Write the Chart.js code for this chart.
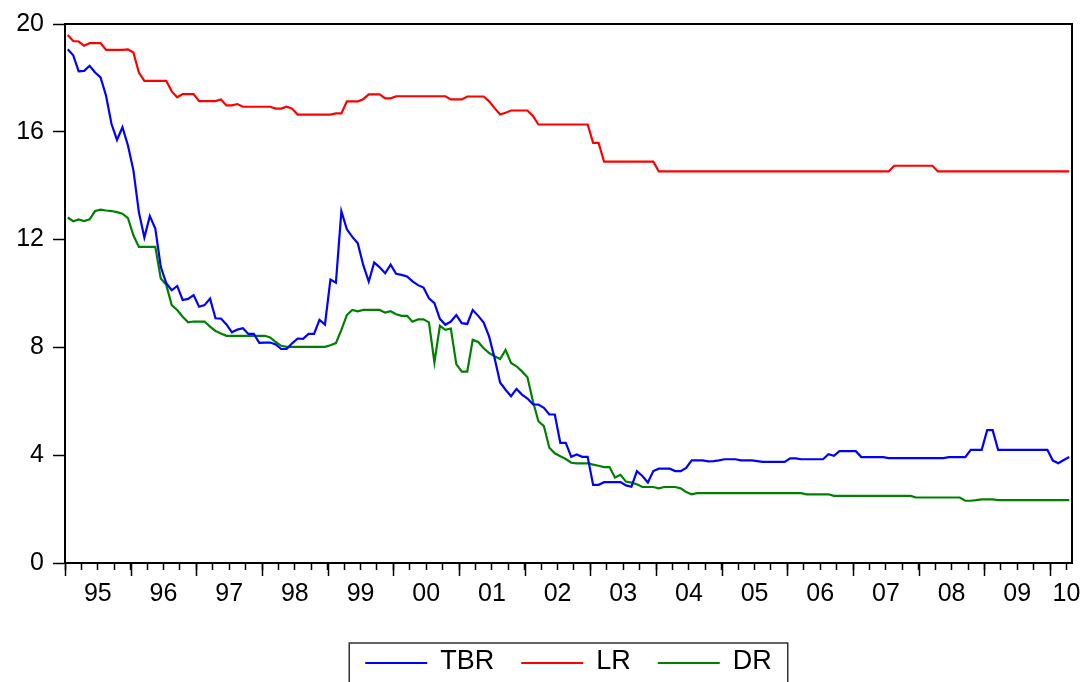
<!DOCTYPE html>
<html>
<head>
<meta charset="utf-8">
<script src="https://cdn.jsdelivr.net/npm/chart.js@4/dist/chart.umd.min.js"></script>
<style>
  html, body { margin: 0; padding: 0; background: #fff; }
  #wrap { width: 1090px; height: 682px; position: relative; }
</style>
</head>
<body>
<div id="wrap"><canvas id="rates"></canvas></div>
<script>
// Monthly rates, 1995M01 - 2010M04
const startYear = 1995;
const yearLabels = ['95', '96', '97', '98', '99', '00', '01', '02', '03', '04', '05', '06', '07', '08', '09', '10'];
const seriesNames = ['TBR', 'LR', 'DR'];
const seriesColors = ['#0000ff', '#ff0000', '#008000'];

const tbr = [
  19.06, 18.84, 18.24, 18.26, 18.45, 18.2, 18.02, 17.34, 16.29, 15.7, 16.17, 15.49,
  14.57, 13.02, 12.08, 12.87, 12.41, 10.99, 10.38, 10.12, 10.28, 9.76, 9.8, 9.94,
  9.51, 9.57, 9.81, 9.08, 9.07, 8.85, 8.56, 8.66, 8.71, 8.5, 8.5, 8.17,
  8.18, 8.18, 8.11, 7.94, 7.94, 8.15, 8.33, 8.32, 8.5, 8.5, 9.02, 8.85,
  10.52, 10.4, 13.05, 12.38, 12.1, 11.86, 11.05, 10.44, 11.15, 10.97, 10.75, 11.07,
  10.73, 10.69, 10.63, 10.45, 10.31, 10.22, 9.82, 9.64, 9.06, 8.84, 8.96, 9.2,
  8.9, 8.87, 9.39, 9.17, 8.92, 8.4, 7.6, 6.7, 6.43, 6.19, 6.46, 6.25,
  6.1, 5.89, 5.88, 5.76, 5.51, 5.51, 4.46, 4.46, 3.94, 4.03, 3.94, 3.94,
  2.9, 2.9, 3.0, 3.0, 3.0, 3.0, 2.88, 2.83, 3.41, 3.23, 2.99, 3.41,
  3.5, 3.5, 3.5, 3.41, 3.41, 3.53, 3.81, 3.81, 3.81, 3.77, 3.78, 3.81,
  3.85, 3.85, 3.85, 3.81, 3.81, 3.81, 3.78, 3.75, 3.75, 3.75, 3.75, 3.75,
  3.88, 3.88, 3.85, 3.85, 3.85, 3.85, 3.85, 4.04, 3.98, 4.15, 4.15, 4.15,
  4.15, 3.93, 3.93, 3.93, 3.93, 3.93, 3.89, 3.89, 3.89, 3.89, 3.89, 3.89,
  3.89, 3.89, 3.89, 3.89, 3.89, 3.93, 3.93, 3.93, 3.93, 4.2, 4.2, 4.2,
  4.93, 4.93, 4.2, 4.2, 4.2, 4.2, 4.2, 4.2, 4.2, 4.2, 4.2, 4.2,
  3.8, 3.7, 3.82, 3.93
];

const lr = [
  19.59, 19.37, 19.35, 19.19, 19.29, 19.29, 19.29, 19.04, 19.04, 19.04, 19.04, 19.06,
  18.94, 18.2, 17.89, 17.89, 17.89, 17.89, 17.89, 17.5, 17.28, 17.4, 17.4, 17.4,
  17.14, 17.14, 17.14, 17.14, 17.2, 16.98, 16.98, 17.03, 16.93, 16.93, 16.93, 16.93,
  16.93, 16.93, 16.86, 16.86, 16.93, 16.86, 16.64, 16.64, 16.64, 16.64, 16.64, 16.64,
  16.64, 16.68, 16.68, 17.13, 17.13, 17.13, 17.21, 17.39, 17.39, 17.39, 17.24, 17.24,
  17.32, 17.32, 17.32, 17.32, 17.32, 17.32, 17.32, 17.32, 17.32, 17.32, 17.2, 17.2,
  17.2, 17.31, 17.31, 17.31, 17.31, 17.13, 16.88, 16.64, 16.71, 16.79, 16.79, 16.79,
  16.79, 16.59, 16.27, 16.27, 16.27, 16.27, 16.27, 16.27, 16.27, 16.27, 16.27, 16.27,
  15.59, 15.59, 14.89, 14.89, 14.89, 14.89, 14.89, 14.89, 14.89, 14.89, 14.89, 14.89,
  14.53, 14.53, 14.53, 14.53, 14.53, 14.53, 14.53, 14.53, 14.53, 14.53, 14.53, 14.53,
  14.53, 14.53, 14.53, 14.53, 14.53, 14.53, 14.53, 14.53, 14.53, 14.53, 14.53, 14.53,
  14.53, 14.53, 14.53, 14.53, 14.53, 14.53, 14.53, 14.53, 14.53, 14.53, 14.53, 14.53,
  14.53, 14.53, 14.53, 14.53, 14.53, 14.53, 14.53, 14.74, 14.74, 14.74, 14.74, 14.74,
  14.74, 14.74, 14.74, 14.53, 14.53, 14.53, 14.53, 14.53, 14.53, 14.53, 14.53, 14.53,
  14.53, 14.53, 14.53, 14.53, 14.53, 14.53, 14.53, 14.53, 14.53, 14.53, 14.53, 14.53,
  14.53, 14.53, 14.53, 14.53
];

const dr = [
  12.82, 12.68, 12.75, 12.69, 12.75, 13.06, 13.11, 13.08, 13.06, 13.02, 12.96, 12.8,
  12.16, 11.73, 11.73, 11.73, 11.73, 10.56, 10.32, 9.57, 9.39, 9.14, 8.93, 8.96,
  8.96, 8.96, 8.77, 8.61, 8.52, 8.43, 8.43, 8.43, 8.43, 8.43, 8.43, 8.43,
  8.43, 8.37, 8.2, 8.06, 8.02, 8.02, 8.02, 8.02, 8.02, 8.02, 8.02, 8.02,
  8.08, 8.16, 8.65, 9.2, 9.39, 9.34, 9.39, 9.39, 9.39, 9.39, 9.29, 9.34,
  9.23, 9.17, 9.17, 8.95, 9.04, 9.04, 8.93, 7.44, 8.8, 8.65, 8.7, 7.38,
  7.1, 7.1, 8.28, 8.2, 7.97, 7.79, 7.67, 7.57, 7.91, 7.42, 7.3, 7.11,
  6.89, 6.0, 5.26, 5.08, 4.28, 4.07, 3.96, 3.86, 3.72, 3.7, 3.7, 3.7,
  3.65, 3.61, 3.56, 3.56, 3.17, 3.27, 3.02, 2.98, 2.92, 2.82, 2.82, 2.82,
  2.77, 2.82, 2.82, 2.82, 2.77, 2.63, 2.55, 2.59, 2.59, 2.59, 2.59, 2.59,
  2.59, 2.59, 2.59, 2.59, 2.59, 2.59, 2.59, 2.59, 2.59, 2.59, 2.59, 2.59,
  2.59, 2.59, 2.59, 2.55, 2.55, 2.55, 2.55, 2.55, 2.49, 2.49, 2.49, 2.49,
  2.49, 2.49, 2.49, 2.49, 2.49, 2.49, 2.49, 2.49, 2.49, 2.49, 2.49, 2.43,
  2.43, 2.43, 2.43, 2.43, 2.43, 2.43, 2.43, 2.43, 2.31, 2.31, 2.33, 2.36,
  2.36, 2.36, 2.33, 2.33, 2.33, 2.33, 2.33, 2.33, 2.33, 2.33, 2.33, 2.33,
  2.33, 2.33, 2.33, 2.33
];

const yTicks = [0, 4, 8, 12, 16, 20];
const nMonths = tbr.length;
const FONT = "'Liberation Sans', Arial, sans-serif";

// each observation sits in the middle of its month
const toPoints = arr => arr.map((v, i) => ({ x: i + 0.5, y: v }));

// frame around the plot, long ticks at year starts, boxed legend under the axis
const framePlugin = {
  id: 'frame',
  afterDraw(chart) {
    const { ctx, chartArea: a, scales: { x } } = chart;
    ctx.save();
    ctx.strokeStyle = '#000';
    ctx.lineWidth = 2;
    ctx.strokeRect(a.left, a.top, a.right - a.left, a.bottom - a.top);

    ctx.lineWidth = 1.5;
    ctx.beginPath();
    for (let m = 0; m <= nMonths; m += 12) {
      const px = Math.round(x.getPixelForValue(m)) + 0.5;
      ctx.moveTo(px, a.bottom);
      ctx.lineTo(px, a.bottom + 13);
    }
    ctx.stroke();

    // legend
    ctx.font = '27px ' + FONT;
    const lineLen = 62, gap = 13, itemGap = 27, pad = 16;
    const widths = seriesNames.map(n => ctx.measureText(n).width);
    let total = 0;
    widths.forEach((w, i) => { total += lineLen + gap + w + (i < widths.length - 1 ? itemGap : 0); });
    const cx = (a.left + a.right) / 2;
    let lx = cx - total / 2;
    const ly = a.bottom + 100;
    ctx.strokeStyle = '#333';
    ctx.lineWidth = 1.5;
    ctx.strokeRect(lx - pad, a.bottom + 80, total + pad * 2, 60);
    ctx.textBaseline = 'middle';
    ctx.fillStyle = '#000';
    seriesNames.forEach((name, i) => {
      ctx.strokeStyle = seriesColors[i];
      ctx.lineWidth = 2;
      ctx.beginPath();
      ctx.moveTo(lx, ly);
      ctx.lineTo(lx + lineLen, ly);
      ctx.stroke();
      lx += lineLen + gap;
      ctx.fillText(name, lx, ly - 1);
      lx += widths[i] + itemGap;
    });
    ctx.restore();
  }
};

const ctx = document.getElementById('rates').getContext('2d');
new Chart(ctx, {
  type: 'line',
  data: {
    datasets: [
      { label: seriesNames[0], data: toPoints(tbr), borderColor: seriesColors[0] },
      { label: seriesNames[1], data: toPoints(lr), borderColor: seriesColors[1] },
      { label: seriesNames[2], data: toPoints(dr), borderColor: seriesColors[2] }
    ]
  },
  options: {
    responsive: true,
    maintainAspectRatio: false,
    animation: false,
    devicePixelRatio: 1,
    layout: { padding: { top: 22, right: 18, left: 0, bottom: 0 } },
    elements: {
      line: { borderWidth: 2.2, tension: 0, fill: false },
      point: { radius: 0, hoverRadius: 0 }
    },
    plugins: { legend: { display: false }, tooltip: { enabled: false } },
    scales: {
      x: {
        type: 'linear',
        min: 0,
        max: nMonths,
        afterBuildTicks: scale => {
          // quarterly tick marks
          const t = [];
          for (let m = 0; m < nMonths; m += 3) t.push({ value: m });
          scale.ticks = t;
        },
        afterFit: scale => { scale.height = 119; },
        grid: { drawOnChartArea: false, tickLength: 7, tickColor: '#000', tickWidth: 1.5 },
        border: { color: '#000', width: 2 },
        ticks: {
          autoSkip: false,
          maxRotation: 0,
          padding: 9,
          color: '#000',
          font: { family: FONT, size: 25 },
          callback: value => {
            if (value % 12 === 6) return yearLabels[(value - 6) / 12];
            if (value === nMonths - 1) return yearLabels[yearLabels.length - 1];
            return '';
          }
        }
      },
      y: {
        min: 0,
        max: 20,
        afterBuildTicks: scale => { scale.ticks = yTicks.map(v => ({ value: v })); },
        afterFit: scale => { scale.width = 65; },
        grid: { drawOnChartArea: false, tickLength: 12, tickColor: '#000', tickWidth: 1.5 },
        border: { color: '#000', width: 2 },
        ticks: {
          padding: 9,
          color: '#000',
          font: { family: FONT, size: 25 }
        }
      }
    }
  },
  plugins: [framePlugin]
});
</script>
</body>
</html>
